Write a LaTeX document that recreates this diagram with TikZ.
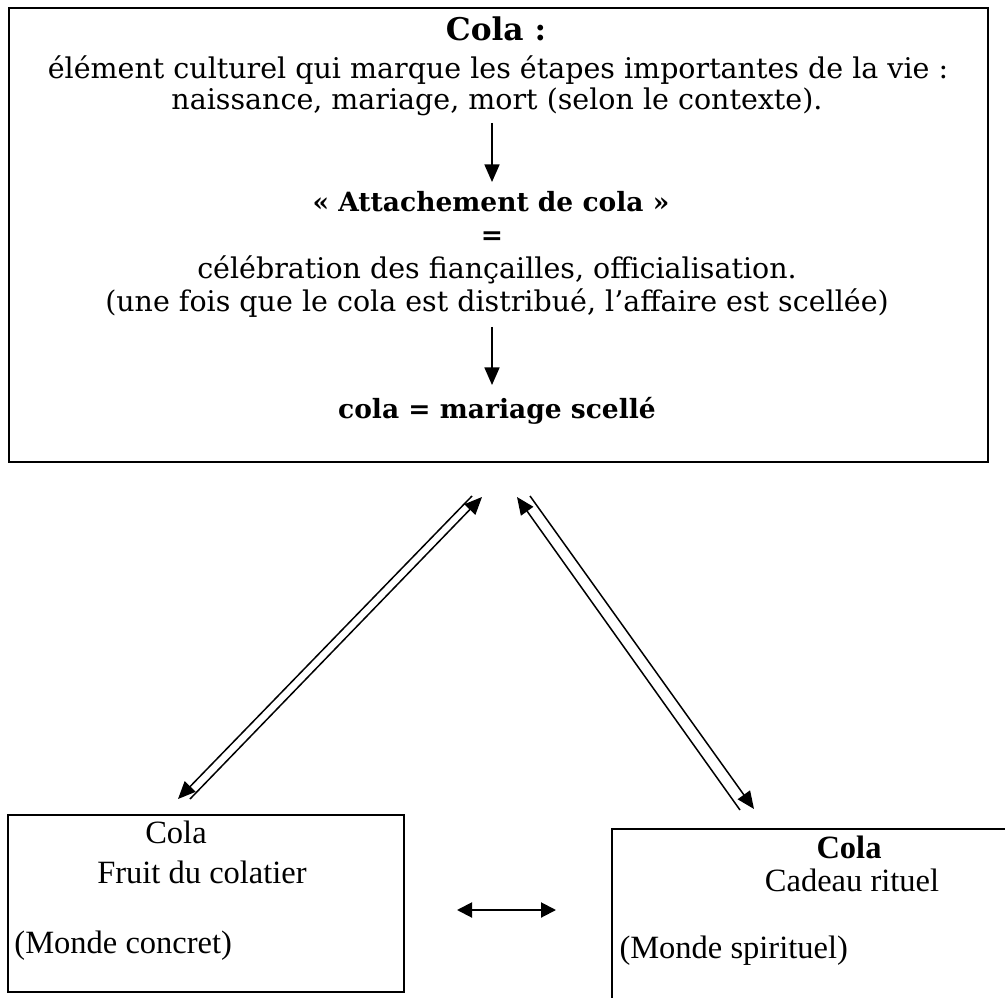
\documentclass[tikz,border=0pt]{standalone}
\usepackage{fontspec}
\setmainfont{DejaVu Serif}
\newfontfamily\cambria{Liberation Serif}
\usetikzlibrary{arrows.meta}
\tikzset{
  cadre/.style={draw, line width=1.1pt},
  txt/.style={inner sep=0pt, anchor=mid, font=\fontsize{11.4}{13}\selectfont},
  gras/.style={txt, font=\fontsize{10.6}{12}\selectfont\bfseries},
  bas/.style={inner sep=0pt, anchor=mid, font=\cambria\fontsize{13}{15}\selectfont},
  fleche/.style={-{Triangle[length=7pt,width=6pt]}, line width=0.6pt},
}
\begin{document}
\begin{tikzpicture}[x=0.4pt,y=-0.4pt]
\clip (0,0) rectangle (1005,998);
% cadre du haut
\draw[cadre] (9,8) rectangle (988,462);
\node[gras, font=\fontsize{12.5}{14}\selectfont\bfseries] (titre) at (496,34) {Cola :};
\node[txt] (ligne1) at (498,72) {élément culturel qui marque les étapes importantes de la vie :};
\node[txt] (ligne2) at (497,103) {naissance, mariage, mort (selon le contexte).};
\node[gras] (attache) at (491,205) {« Attachement de cola »};
\node[gras] (egal) at (492,238) {=};
\node[txt] (celeb) at (497,272) {célébration des fiançailles, officialisation.};
\node[txt] (scelle) at (497,305) {(une fois que le cola est distribué, l’affaire est scellée)};
\node[gras] (mariage) at (497,412) {cola = mariage scellé};
\coordinate (v1a) at (492,123);
\coordinate (v1b) at (492,182);
\coordinate (v2a) at (492,327);
\coordinate (v2b) at (492,385);
\draw[fleche] (v1a) -- (v1b);
\draw[fleche] (v2a) -- (v2b);

% boites du bas
\draw[cadre] (8,815) rectangle (404,992);
\node[bas] (cola1) at (176,837) {Cola};
\node[bas] (fruit) at (202,877) {Fruit du colatier};
\node[bas, anchor=mid west] (concret) at (14,947) {(Monde concret)};
\draw[cadre] (612,829) rectangle (1020,1010);
\node[bas, font=\cambria\fontsize{13}{15}\selectfont\bfseries] (cola2) at (849,852) {Cola};
\node[bas] (cadeau) at (852,885) {Cadeau rituel};
\node[bas, anchor=mid west] (spirit) at (619,952) {(Monde spirituel)};

% fleches
\coordinate (h1) at (457,910);
\coordinate (h2) at (556,910);
\draw[{Triangle[length=6pt,width=6pt]}-{Triangle[length=6pt,width=6pt]}, line width=0.8pt] (h1) -- (h2);
\coordinate (g1) at (472,496);
\coordinate (g2) at (178,799);
\coordinate (g3) at (190,799);
\coordinate (g4) at (482,497);
\draw[fleche] (g1) -- (g2);
\draw[fleche] (g3) -- (g4);
\coordinate (d1) at (740,810);
\coordinate (d2) at (517,497);
\coordinate (d3) at (530,496);
\coordinate (d4) at (754,809);
\draw[fleche] (d1) -- (d2);
\draw[fleche] (d3) -- (d4);
\end{tikzpicture}
\end{document}
